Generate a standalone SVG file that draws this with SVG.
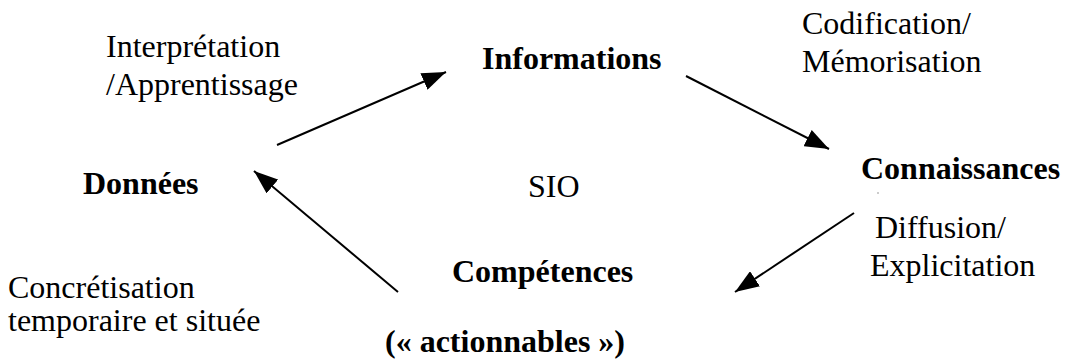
<svg xmlns="http://www.w3.org/2000/svg" width="1067" height="361" viewBox="0 0 1067 361" font-family="'Liberation Serif', 'Times New Roman', Times, serif" font-size="32">
<style>
  text { font-family: 'Liberation Serif', 'Times New Roman', Times, serif; font-size: 32px; fill: #000; }
  .b { font-weight: bold; }
  .conn line { stroke: #000; stroke-width: 2; marker-end: url(#ah); }
</style>
<defs>
  <marker id="ah" viewBox="0 0 24 18" refX="24" refY="9" markerWidth="24" markerHeight="18" markerUnits="userSpaceOnUse" orient="auto">
    <path d="M0,0 L24,9 L0,18 z" fill="#000"/>
  </marker>
</defs>
<rect width="1067" height="361" fill="#fff"/>
<g id="donnees"><text class="b" x="83" y="194">Données</text></g>
<g id="informations"><text class="b" x="482" y="69">Informations</text></g>
<g id="connaissances"><text class="b" x="861" y="179">Connaissances</text></g>
<g id="competences"><text class="b" x="452" y="282">Compétences</text><text class="b" x="385" y="352">(« actionnables »)</text></g>
<g id="sio"><text x="528" y="197">SIO</text></g>
<g id="labels">
  <text x="106" y="57">Interprétation</text>
  <text x="106" y="95">/Apprentissage</text>
  <text x="802" y="34">Codification/</text>
  <text x="802" y="72">Mémorisation</text>
  <text x="875" y="238">Diffusion/</text>
  <text x="870" y="276">Explicitation</text>
  <text x="8" y="298">Concrétisation</text>
  <text x="8" y="331">temporaire et située</text>
  <line x1="877" y1="193" x2="879" y2="193" stroke="#999" stroke-width="1"/>
</g>
<g id="connectors" class="conn">
  <line x1="277" y1="145" x2="446" y2="72"/>
  <line x1="686" y1="76" x2="829" y2="149"/>
  <line x1="854" y1="213" x2="735" y2="292"/>
  <line x1="398" y1="292" x2="254" y2="171"/>
</g>
</svg>
